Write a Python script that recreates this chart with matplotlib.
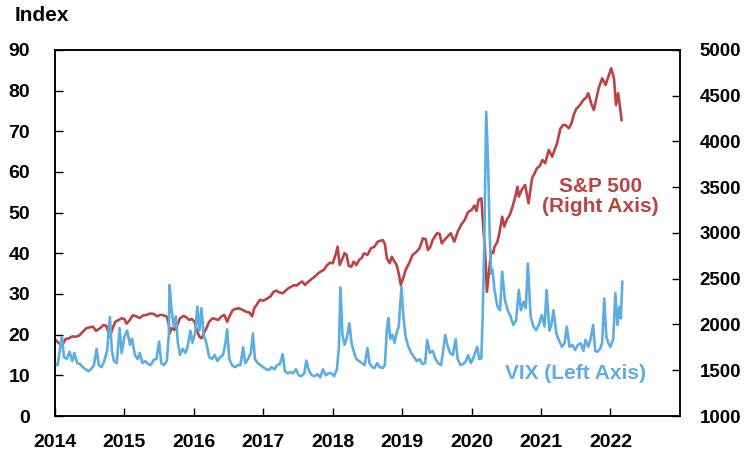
import numpy as np
import matplotlib
matplotlib.use('Agg')
import matplotlib.pyplot as plt

plt.rcParams['font.family'] = ['Liberation Sans', 'DejaVu Sans']

# VIX (left axis), decimal years
vix_t = [2014.00, 2014.04, 2014.08, 2014.10, 2014.13, 2014.17, 2014.21, 2014.25, 2014.28, 2014.32,
         2014.36, 2014.40, 2014.44, 2014.48, 2014.52, 2014.56, 2014.60, 2014.63, 2014.67, 2014.71,
         2014.75, 2014.79, 2014.82, 2014.85, 2014.89, 2014.93, 2014.96, 2015.00, 2015.04, 2015.08,
         2015.11, 2015.15, 2015.19, 2015.22, 2015.26, 2015.30, 2015.34, 2015.38, 2015.42, 2015.46,
         2015.50, 2015.53, 2015.57, 2015.61, 2015.64, 2015.65, 2015.68, 2015.71, 2015.74, 2015.77,
         2015.80, 2015.84, 2015.88, 2015.91, 2015.95, 2015.98, 2016.02, 2016.05, 2016.08, 2016.11,
         2016.14, 2016.18, 2016.22, 2016.26, 2016.30, 2016.34, 2016.38, 2016.42, 2016.45, 2016.48,
         2016.51, 2016.55, 2016.59, 2016.63, 2016.67, 2016.71, 2016.74, 2016.78, 2016.82, 2016.85,
         2016.88, 2016.92, 2016.96, 2017.00, 2017.04, 2017.08, 2017.12, 2017.16, 2017.20, 2017.24,
         2017.28, 2017.31, 2017.35, 2017.39, 2017.43, 2017.47, 2017.51, 2017.55, 2017.59, 2017.62,
         2017.66, 2017.70, 2017.74, 2017.78, 2017.82, 2017.86, 2017.90, 2017.94, 2017.98, 2018.02,
         2018.06, 2018.09, 2018.11, 2018.14, 2018.17, 2018.20, 2018.24, 2018.27, 2018.30, 2018.34,
         2018.38, 2018.42, 2018.46, 2018.50, 2018.53, 2018.57, 2018.60, 2018.64, 2018.68, 2018.72,
         2018.75, 2018.78, 2018.80, 2018.83, 2018.86, 2018.89, 2018.92, 2018.95, 2018.99, 2019.02,
         2019.05, 2019.09, 2019.13, 2019.17, 2019.21, 2019.25, 2019.29, 2019.33, 2019.36, 2019.40,
         2019.44, 2019.48, 2019.52, 2019.56, 2019.59, 2019.62, 2019.65, 2019.69, 2019.73, 2019.77,
         2019.80, 2019.84, 2019.88, 2019.92, 2019.95, 2019.99, 2020.03, 2020.08, 2020.11, 2020.14,
         2020.16, 2020.18, 2020.21, 2020.24, 2020.26, 2020.28, 2020.30, 2020.33, 2020.37, 2020.41,
         2020.44, 2020.48, 2020.52, 2020.56, 2020.60, 2020.64, 2020.68, 2020.71, 2020.75, 2020.78,
         2020.81, 2020.85, 2020.89, 2020.93, 2020.97, 2021.01, 2021.05, 2021.08, 2021.12, 2021.15,
         2021.18, 2021.22, 2021.26, 2021.30, 2021.34, 2021.37, 2021.41, 2021.45, 2021.49, 2021.53,
         2021.57, 2021.61, 2021.64, 2021.68, 2021.71, 2021.75, 2021.78, 2021.81, 2021.85, 2021.88,
         2021.91, 2021.94, 2021.97, 2022.00, 2022.04, 2022.07, 2022.10, 2022.13, 2022.15, 2022.17]
vix = [13.0, 12.5, 17.5, 19.4, 14.5, 14.0, 15.8, 13.5, 15.5, 13.0,
       12.8, 12.0, 11.5, 11.0, 11.5, 12.5, 16.5, 12.5, 12.0, 13.5,
       16.0, 24.3, 16.0, 13.5, 13.0, 21.6, 15.5, 19.5, 21.0, 17.5,
       19.0, 15.0, 14.0, 15.5, 13.0, 13.5, 12.8, 12.5, 13.8, 14.0,
       18.3, 13.0, 12.5, 13.5, 20.0, 32.2, 26.0, 22.0, 24.5, 18.0,
       15.0, 16.5, 15.5, 17.0, 21.0, 18.0, 20.5, 26.9, 21.0, 26.5,
       20.0, 18.0, 14.5, 14.0, 15.0, 13.5, 14.5, 15.0, 17.5, 21.3,
       14.0, 12.5, 12.0, 12.5, 12.5, 16.9, 13.0, 14.0, 15.5, 20.3,
       14.0, 13.0, 12.5, 12.0, 11.5, 11.3, 12.0, 11.5, 12.5, 12.8,
       15.2, 11.0, 10.5, 10.8, 10.5, 11.5, 10.0, 9.8, 10.5, 13.6,
       11.0, 10.0, 9.8, 10.3, 9.5, 11.5, 10.0, 10.5, 10.5, 9.8,
       11.5, 17.0, 31.6, 20.0, 17.5, 19.0, 22.8, 18.0, 16.0, 14.0,
       13.5, 13.0, 12.5, 16.7, 13.0, 12.0, 11.8, 13.0, 12.0, 11.8,
       12.5, 21.1, 24.1, 19.0, 20.0, 18.0, 20.5, 22.0, 31.8, 24.0,
       19.5, 17.0, 15.5, 14.5, 13.5, 14.0, 12.8, 13.0, 18.7, 15.5,
       16.0, 14.0, 13.0, 12.5, 16.0, 19.9, 17.5, 15.5, 15.0, 18.9,
       14.0, 12.5, 12.8, 13.5, 15.0, 13.0, 14.5, 17.0, 14.0, 14.2,
       25.0, 40.0, 74.8, 60.5, 45.0, 35.1, 36.0, 31.0, 27.0, 26.0,
       35.5, 28.5, 26.0, 24.5, 22.4, 23.5, 31.0, 26.0, 28.1, 26.5,
       37.5, 24.4, 22.0, 21.1, 22.5, 24.8, 22.0, 31.0, 21.0, 22.5,
       26.0, 20.3, 18.5, 17.0, 18.0, 22.0, 17.0, 17.5, 16.2, 17.5,
       17.9, 16.0, 18.7, 17.0, 18.7, 22.4, 16.0, 15.8, 16.5, 18.0,
       28.9, 19.5, 17.9, 17.0, 19.0, 30.2, 22.4, 26.9, 24.0, 33.0]

# S&P 500 (right axis)
spx_t = [2014.00, 2014.05, 2014.10, 2014.15, 2014.20, 2014.25, 2014.30, 2014.35, 2014.40, 2014.45,
         2014.50, 2014.55, 2014.59, 2014.65, 2014.70, 2014.74, 2014.79, 2014.83, 2014.87, 2014.92,
         2014.96, 2015.00, 2015.03, 2015.07, 2015.12, 2015.17, 2015.22, 2015.27, 2015.32, 2015.37,
         2015.42, 2015.47, 2015.52, 2015.57, 2015.61, 2015.64, 2015.65, 2015.68, 2015.72, 2015.76,
         2015.80, 2015.85, 2015.89, 2015.93, 2015.97, 2016.01, 2016.05, 2016.08, 2016.11, 2016.14,
         2016.18, 2016.22, 2016.27, 2016.31, 2016.35, 2016.40, 2016.44, 2016.48, 2016.52, 2016.56,
         2016.60, 2016.65, 2016.70, 2016.75, 2016.80, 2016.84, 2016.87, 2016.90, 2016.95, 2017.00,
         2017.05, 2017.10, 2017.15, 2017.19, 2017.23, 2017.28, 2017.32, 2017.36, 2017.40, 2017.44,
         2017.48, 2017.52, 2017.56, 2017.60, 2017.65, 2017.70, 2017.74, 2017.79, 2017.83, 2017.87,
         2017.92, 2017.96, 2018.00, 2018.04, 2018.07, 2018.10, 2018.13, 2018.17, 2018.20, 2018.23,
         2018.27, 2018.30, 2018.34, 2018.38, 2018.42, 2018.45, 2018.50, 2018.55, 2018.60, 2018.65,
         2018.72, 2018.75, 2018.78, 2018.82, 2018.85, 2018.88, 2018.92, 2018.95, 2018.98, 2019.02,
         2019.05, 2019.10, 2019.15, 2019.20, 2019.25, 2019.30, 2019.34, 2019.37, 2019.40, 2019.44,
         2019.50, 2019.54, 2019.57, 2019.63, 2019.70, 2019.75, 2019.80, 2019.85, 2019.90, 2019.95,
         2020.00, 2020.04, 2020.07, 2020.10, 2020.14, 2020.17, 2020.19, 2020.20, 2020.22, 2020.25,
         2020.28, 2020.31, 2020.33, 2020.37, 2020.40, 2020.44, 2020.47, 2020.51, 2020.55, 2020.59,
         2020.63, 2020.66, 2020.68, 2020.72, 2020.77, 2020.82, 2020.87, 2020.90, 2020.94, 2020.98,
         2021.02, 2021.06, 2021.11, 2021.16, 2021.20, 2021.23, 2021.28, 2021.32, 2021.35, 2021.40,
         2021.44, 2021.47, 2021.51, 2021.54, 2021.58, 2021.61, 2021.65, 2021.68, 2021.72, 2021.76,
         2021.80, 2021.83, 2021.88, 2021.93, 2021.97, 2022.01, 2022.05, 2022.08, 2022.11, 2022.13,
         2022.16]
spx = [1838, 1800, 1765, 1840, 1849, 1870, 1866, 1880, 1920, 1958,
       1970, 1975, 1930, 1960, 1995, 1985, 1866, 1960, 2030, 2050,
       2068, 2060, 2010, 2040, 2100, 2090, 2070, 2100, 2105, 2120,
       2115, 2090, 2105, 2100, 2085, 2000, 1900, 1960, 1940, 1990,
       2068, 2093, 2080, 2050, 2060, 2030, 1920, 1866, 1849, 1900,
       1958, 2030, 2068, 2060, 2049, 2090, 2104, 2030, 2100, 2158,
       2170, 2177, 2160, 2140, 2130, 2090, 2180, 2210, 2268, 2260,
       2280, 2304, 2358, 2370, 2350, 2341, 2370, 2395, 2413, 2430,
       2425, 2450, 2470, 2432, 2468, 2500, 2522, 2559, 2580, 2596,
       2650, 2675, 2669, 2760, 2850, 2650, 2700, 2780, 2760, 2640,
       2632, 2687, 2650, 2705, 2730, 2778, 2760, 2833, 2850, 2905,
       2923, 2880, 2723, 2669, 2741, 2700, 2650, 2560, 2432, 2520,
       2596, 2669, 2760, 2790, 2833, 2942, 2930, 2814, 2840, 2923,
       2997, 2990, 2887, 2942, 2997, 2905, 3014, 3090, 3142, 3230,
       3251, 3300, 3240, 3361, 3379, 3033, 2850, 2705, 2358, 2577,
       2796, 2780, 2850, 2900, 2997, 3178, 3069, 3150, 3197, 3288,
       3400, 3506, 3397, 3470, 3525, 3324, 3597, 3640, 3706, 3730,
       3798, 3761, 3907, 3834, 3920, 3980, 4144, 4180, 4180, 4144,
       4200, 4290, 4360, 4380, 4420, 4454, 4480, 4527, 4420, 4344,
       4480, 4582, 4690, 4617, 4708, 4800, 4690, 4399, 4527, 4417,
       4235]

years = list(range(2014, 2023))
red = '#bc4343'
blue = '#5dade2'

fig = plt.figure(figsize=(7.48, 4.54), dpi=100)
ax = fig.add_axes([0.0735, 0.0837, 0.8355, 0.8063])
ax2 = ax.twinx()

ax2.plot(spx_t, spx, color=red, lw=1.9, solid_joinstyle='round')
ax.plot(vix_t, vix, color=blue, lw=1.9, solid_joinstyle='round')

# keep VIX drawn over the S&P line
ax.set_zorder(ax2.get_zorder() + 1)
ax.patch.set_visible(False)

ax.set_xlim(2014, 2023)
ax.set_ylim(0, 90)
ax2.set_ylim(1000, 5000)
ax.set_xticks(years)
ax.set_xticklabels([str(y) for y in years])
ax.set_yticks(np.arange(0, 91, 10))
ax2.set_yticks(np.arange(1000, 5001, 500))

ax.tick_params(axis='x', direction='in', length=6, width=1, pad=13, labelsize=14)
ax.tick_params(axis='y', direction='in', length=6, width=1, pad=18, labelsize=14)
ax2.tick_params(axis='y', direction='in', length=6, width=1, pad=14, labelsize=13.5)
for a in (ax, ax2):
    for lab in a.get_xticklabels() + a.get_yticklabels():
        lab.set_fontweight('bold')
    for s in a.spines.values():
        s.set_linewidth(1.1)

fig.text(0.019, 0.965, 'Index', fontsize=15, fontweight='bold', va='center', ha='left')
ax.text(2021.86, 54, 'S&P 500\n(Right Axis)', color=red, fontsize=15, fontweight='bold',
        ha='center', va='center', linespacing=1.05)
ax.text(2021.5, 10.5, 'VIX (Left Axis)', color=blue, fontsize=15, fontweight='bold',
        ha='center', va='center')

plt.savefig('out.png', dpi=100)
